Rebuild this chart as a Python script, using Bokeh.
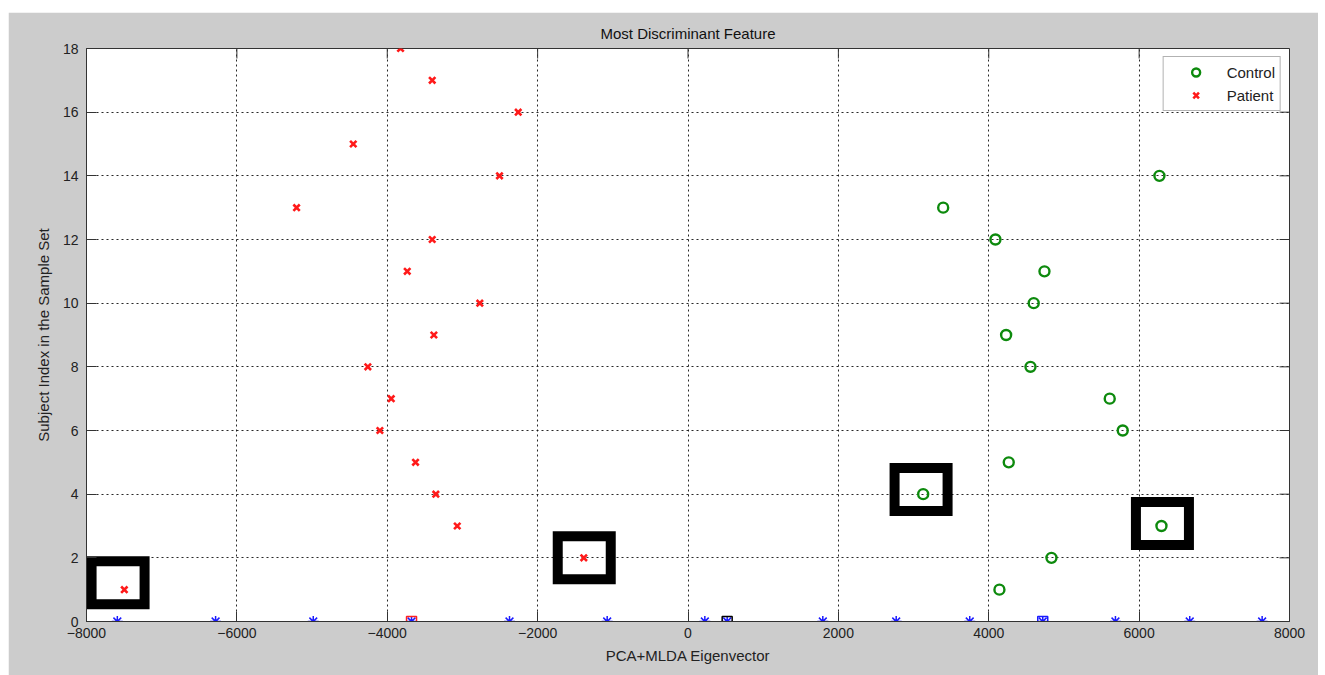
import math
from bokeh.plotting import figure
from bokeh.models import (Range1d, FixedTicker, Legend, LegendItem)
from bokeh.embed import file_html
from bokeh.resources import INLINE

# ---- data ----
patient_x = [-7497, -1386, -3069, -3354, -3624, -4098, -3947, -4258, -3380,
             -2769, -3734, -3402, -5206, -2507, -4452, -2258, -3402, -3823]
patient_y = [1, 2, 3, 4, 5, 6, 7, 8, 9, 10, 11, 12, 13, 14, 15, 16, 17, 18]

control_x = [4142, 4834, 6297, 3128, 4266, 5782, 5609, 4555, 4231, 4598, 4741, 4089, 3394, 6270]
control_y = [1, 2, 3, 4, 5, 6, 7, 8, 9, 10, 11, 12, 13, 14]

star_x = [-7590, -6283, -4984, -3677, -2374, -1075, 224, 521, 1793, 2769, 3747, 4718, 5685, 6673, 7636]
star_y = [0] * len(star_x)

square_x = [-3677, 521, 4718]
square_y = [0, 0, 0]
square_colors = ["#ff2020", "#000000", "#1a1aff"]

box_x = [-7580, -1380, 3100, 6310]
box_y = [1.22, 2.0, 4.15, 3.08]

x_ticks = [-8000, -6000, -4000, -2000, 0, 2000, 4000, 6000, 8000]
y_ticks = [0, 2, 4, 6, 8, 10, 12, 14, 16, 18]

FONT = "Liberation Sans"
GREY = "#cccccc"

p = figure(width=1310, height=663, output_backend="svg", toolbar_location=None,
           x_range=Range1d(-8000, 8000), y_range=Range1d(0, 18),
           title="Most Discriminant Feature",
           min_border_left=78, min_border_right=29, min_border_top=36, min_border_bottom=54)
p.margin = (12, 0, 0, 8)
p.border_fill_color = GREY
p.background_fill_color = "white"
p.outline_line_color = "#333333"
p.outline_line_width = 1

p.title.align = "center"
p.title.text_font = FONT
p.title.text_font_size = "15px"
p.title.text_font_style = "normal"
p.title.text_color = "#111111"
p.title.standoff = 13

for ax, ticks in ((p.xaxis[0], x_ticks), (p.yaxis[0], y_ticks)):
    ax.ticker = FixedTicker(ticks=ticks)
    ax.major_tick_in = 10
    ax.major_tick_out = 0
    ax.minor_tick_line_color = None
    ax.axis_line_color = "#333333"
    ax.major_tick_line_color = "#333333"
    ax.major_label_text_font = FONT
    ax.major_label_text_font_size = "14px"
    ax.major_label_text_color = "#222222"
    ax.axis_label_text_font = FONT
    ax.axis_label_text_font_size = "15px"
    ax.axis_label_text_font_style = "normal"
    ax.axis_label_text_color = "#222222"

p.xaxis[0].axis_label = "PCA+MLDA Eigenvector"
p.yaxis[0].axis_label = "Subject Index in the Sample Set"
p.xaxis[0].major_label_standoff = 6
p.xaxis[0].axis_label_standoff = 6
p.yaxis[0].major_label_standoff = 8
p.yaxis[0].axis_label_standoff = 8

# inward ticks on the top and right edges of the box
p.ray(x=x_ticks, y=[18] * len(x_ticks), length=10, length_units="screen",
      angle=-math.pi / 2, line_color="#333333", line_width=1)
p.ray(x=[8000] * len(y_ticks), y=y_ticks, length=10, length_units="screen",
      angle=math.pi, line_color="#333333", line_width=1)

for g, ticks in ((p.xgrid[0], x_ticks), (p.ygrid[0], y_ticks)):
    g.ticker = FixedTicker(ticks=ticks)
    g.grid_line_color = "#111111"
    g.grid_line_dash = "2 3"
    g.grid_line_width = 1
    g.grid_line_alpha = 0.9

# highlight boxes
p.rect(x=box_x, y=box_y, width=705, height=1.35, fill_color=None,
       line_color="black", line_width=10, line_join="miter")

# stars on the axis
p.scatter(x=star_x, y=star_y, marker="asterisk", size=11, line_color="#1a1aff", line_width=1.5)
p.scatter(x=square_x, y=square_y, marker="square", size=10, fill_color=None,
          line_color=square_colors, line_width=1.5)

r_ctrl = p.scatter(x=control_x, y=control_y, marker="circle", size=10, fill_color=None,
                   line_color="#0d8a0d", line_width=2.4)
r_pat = p.scatter(x=patient_x, y=patient_y, marker="x", size=9, line_color="#ff1a1a",
                  line_width=2.6)

legend = Legend(items=[LegendItem(label="Control", renderers=[r_ctrl]),
                       LegendItem(label="Patient", renderers=[r_pat])],
                location="top_right", margin=8, padding=5, spacing=3,
                glyph_width=54, glyph_height=20, label_height=20, label_standoff=4,
                label_text_font=FONT, label_text_font_size="15px", label_text_color="#222222",
                border_line_color="#666666", border_line_width=1,
                background_fill_color="white", background_fill_alpha=1)
p.add_layout(legend)

open("out.html", "w").write(file_html(p, INLINE))
